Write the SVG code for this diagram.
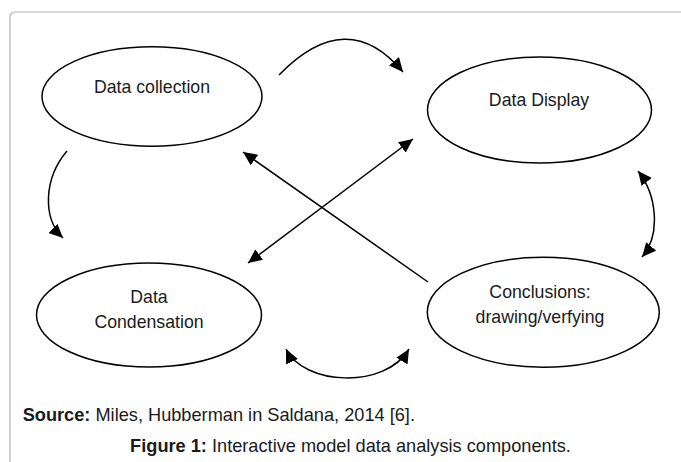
<svg xmlns="http://www.w3.org/2000/svg" width="681" height="462" viewBox="0 0 681 462">
<style>
.node ellipse{fill:#fff;stroke:#000;stroke-width:1.5}
.lbl{font-family:"Liberation Sans",Arial,sans-serif;font-size:17.7px;fill:#1a1a1a;text-anchor:middle}
.cap{font-family:"Liberation Sans",Arial,sans-serif;font-size:18.2px;fill:#1a1a1a}
.conn path{fill:none;stroke:#000;stroke-width:1.5}
</style>
<defs>
<marker id="ah" markerUnits="userSpaceOnUse" markerWidth="15" markerHeight="13" refX="14" refY="6.5" orient="auto-start-reverse">
<path d="M0,0 L14,6.5 L0,13 z" fill="#000"/>
</marker>
</defs>
<rect width="681" height="462" fill="#fff"/>
<rect x="10" y="12" width="700" height="500" rx="5" fill="none" stroke="#b4b4b4" stroke-width="1.2"/>
<g class="conn">
<path d="M279,75 Q347,5 403,72" marker-end="url(#ah)"/>
<path d="M67,151 C44,178 42,218 63,238" marker-end="url(#ah)"/>
<path d="M638,171 C657,195 661,235 642,257" marker-start="url(#ah)" marker-end="url(#ah)"/>
<path d="M286,349 C303,385 385,390 409,349" marker-start="url(#ah)" marker-end="url(#ah)"/>
<path d="M428,282 L243,152" marker-end="url(#ah)"/>
<path d="M413,139 L248,263" marker-start="url(#ah)" marker-end="url(#ah)"/>
</g>
<g id="data-collection" class="node">
<ellipse cx="152" cy="96.5" rx="110" ry="49.7"/>
<text class="lbl" x="152" y="93">Data collection</text>
</g>
<g id="data-display" class="node">
<ellipse cx="539.5" cy="110" rx="112" ry="53"/>
<text class="lbl" x="539" y="106">Data Display</text>
</g>
<g id="data-condensation" class="node">
<ellipse cx="149" cy="315" rx="112.5" ry="52"/>
<text class="lbl" x="149" y="302.7">Data</text>
<text class="lbl" x="149" y="328.3">Condensation</text>
</g>
<g id="conclusions" class="node">
<ellipse cx="543.3" cy="312.3" rx="116" ry="55"/>
<text class="lbl" x="540" y="297.7">Conclusions:</text>
<text class="lbl" x="540" y="323.3">drawing/verfying</text>
</g>
<text class="cap" x="22.7" y="420.7"><tspan font-weight="bold">Source:</tspan> Miles, Hubberman in Saldana, 2014 [6].</text>
<text class="cap" x="350.5" y="451.5" text-anchor="middle"><tspan font-weight="bold">Figure 1:</tspan> Interactive model data analysis components.</text>
</svg>
